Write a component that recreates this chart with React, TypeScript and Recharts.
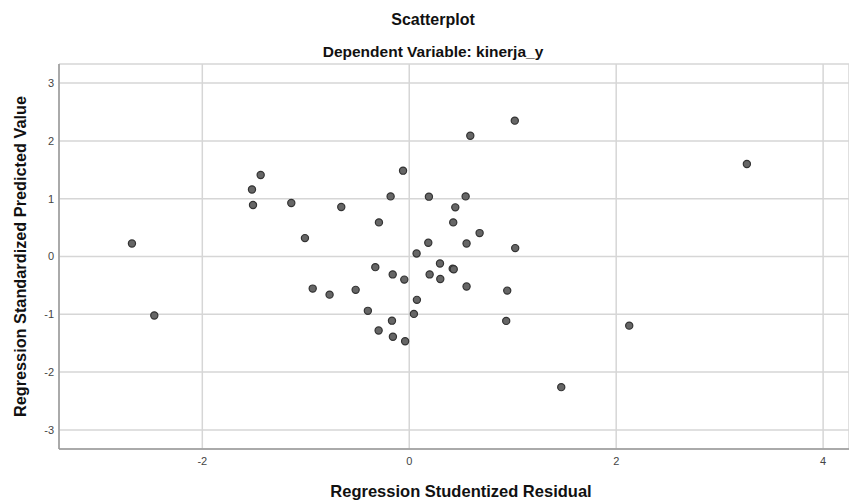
import { ScatterChart, Scatter, XAxis, YAxis, CartesianGrid } from "recharts";

// studentized residuals (x) and standardized predicted values (y)
const residual = [
  -2.68, -1.52, -1.436, -1.51, -1.14, 1.02, 0.59, -0.06, -0.18, 0.19,
  0.545, -0.657, 0.445, -0.293, 0.425, -1.008, 0.68, 0.184, 0.554, 1.024,
  0.071, -0.328, -0.16, -0.048, 0.197, 0.297, 0.3, 0.42, 0.43, -0.933,
  -0.77, -0.518, 0.554, 0.947, 0.074, -0.4, 0.045, -0.167, 0.937, -0.296,
  -0.158, -0.04, 1.469, -2.464, 3.263, 2.126,
];
const predicted = [
  0.225, 1.16, 1.41, 0.89, 0.925, 2.35, 2.09, 1.485, 1.04, 1.035,
  1.04, 0.856, 0.85, 0.59, 0.59, 0.318, 0.405, 0.237, 0.225, 0.145,
  0.052, -0.184, -0.31, -0.4, -0.31, -0.12, -0.39, -0.21, -0.22, -0.555,
  -0.66, -0.577, -0.52, -0.59, -0.75, -0.94, -0.993, -1.11, -1.114, -1.28,
  -1.387, -1.467, -2.26, -1.02, 1.6, -1.196,
];
const xTicks = [-2, 0, 2, 4];
const yTicks = [-3, -2, -1, 0, 1, 2, 3];

const points = residual.map((x, i) => ({ x, y: predicted[i] }));

const font = "'Liberation Sans', Arial, sans-serif";

const Dot = (props: any) => (
  <circle cx={props.cx} cy={props.cy} r={3.6} fill="#666" stroke="#333" strokeWidth={1.2} />
);

export default function App() {
  return (
    <div style={{ position: "absolute", left: 0, top: 0, width: 849, height: 500, background: "#fff", fontFamily: font }}>
      <div style={{ position: "absolute", left: 333, width: 200, top: 11, textAlign: "center", fontSize: 16, fontWeight: "bold", color: "#111" }}>
        Scatterplot
      </div>
      <div style={{ position: "absolute", left: 233, width: 400, top: 43, textAlign: "center", fontSize: 15.5, fontWeight: "bold", color: "#111" }}>
        Dependent Variable: kinerja_y
      </div>
      <ScatterChart
        width={849}
        height={500}
        margin={{ top: 64, right: 0, left: 0, bottom: 0 }}
        style={{ fontFamily: font }}
      >
        <CartesianGrid stroke="#d6d6d6" strokeWidth={1.5} />
        <XAxis
          type="number"
          dataKey="x"
          domain={[-3.385, 4.25]}
          ticks={xTicks}
          allowDataOverflow
          height={51}
          tickLine={false}
          tickSize={0}
          tickMargin={8}
          axisLine={{ stroke: "#999", strokeWidth: 1.5 }}
          tick={{ fontSize: 11, fill: "#444" }}
          label={{ value: "Regression Studentized Residual", position: "insideBottom", offset: 3, dx: 7, style: { fontSize: 16.5, fontWeight: "bold", fill: "#111" } }}
        />
        <YAxis
          type="number"
          dataKey="y"
          domain={[-3.33, 3.33]}
          ticks={yTicks}
          allowDataOverflow
          width={59}
          tickLine={false}
          tickSize={0}
          tickMargin={5}
          axisLine={{ stroke: "#999", strokeWidth: 1.5 }}
          tick={{ fontSize: 11, fill: "#444" }}
          label={{ value: "Regression Standardized Predicted Value", angle: -90, position: "insideLeft", offset: 20, style: { textAnchor: "middle", fontSize: 16.3, fontWeight: "bold", fill: "#111" } }}
        />
        <Scatter data={points} shape={Dot} isAnimationActive={false} />
      </ScatterChart>
    </div>
  );
}
